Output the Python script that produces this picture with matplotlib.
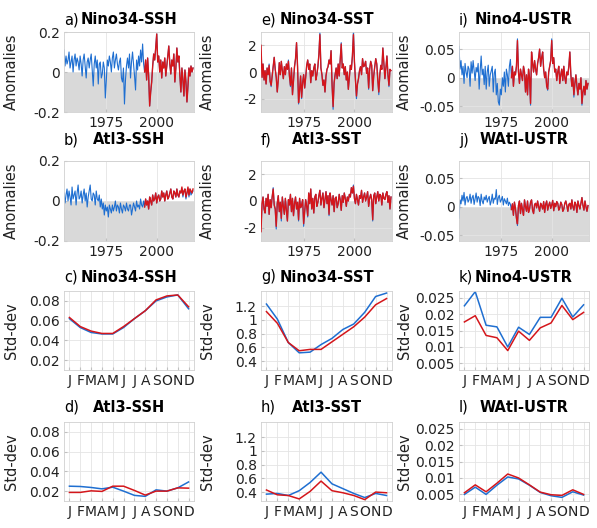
import numpy as np
import matplotlib
matplotlib.use('Agg')
import matplotlib.pyplot as plt

plt.rcParams['font.family'] = ['DejaVu Sans']
plt.rcParams['axes.unicode_minus'] = False

# half-year time axis of the anomaly series
years = np.arange(1954, 2018.01, 0.5)
months = np.arange(1, 13)
month_labels = ['J', 'F', 'M', 'A', 'M', 'J', 'J', 'A', 'S', 'O', 'N', 'D']

# ---- anomaly series (blue = full record, red = observations) ----
a_blue = [0.11, 0.03, 0.08, 0.04, 0.06, 0.10, 0.02, 0.05, 0.08, 0.00,
          0.06, 0.09, 0.03, 0.07, 0.05, 0.01, 0.08, 0.04, -0.02, 0.06,
          0.09, 0.03, -0.03, 0.05, 0.07, 0.02, 0.06, 0.09, 0.01, -0.07,
          0.04, 0.08, 0.02, 0.06, -0.06, 0.04, 0.05, -0.03, -0.01, 0.05,
          0.02, -0.13, -0.04, 0.06, 0.03, 0.08, 0.05, 0.00, 0.07, 0.10,
          0.02, 0.06, 0.09, 0.04, 0.01, 0.05, 0.07, -0.03, -0.05, 0.02,
          -0.16, -0.04, 0.03, 0.07, 0.02, 0.09, -0.03, 0.05, 0.10, 0.04,
          -0.02, -0.09, 0.06, 0.01, 0.08, 0.03, 0.11, 0.05, 0.14, 0.04,
          0.00, 0.06, -0.04, 0.07, -0.02, -0.17, -0.10, -0.05, 0.03, 0.09,
          0.06, 0.12, 0.19, 0.05, 0.08, 0.00, 0.06, -0.03, 0.05, 0.02,
          0.07, -0.02, 0.03, 0.08, 0.13, 0.04, -0.01, 0.06, 0.03, 0.09,
          -0.05, 0.02, 0.12, 0.05, 0.08, -0.02, -0.10, 0.02, -0.04, -0.12,
          0.01, -0.05, -0.15, -0.07, 0.02, -0.02, 0.03, 0.00, 0.02]
a_red = [0.00, 0.06, -0.04, 0.07, -0.02, -0.17, -0.10, -0.05, 0.03, 0.09,
         0.06, 0.12, 0.19, 0.05, 0.08, 0.00, 0.06, -0.03, 0.05, 0.02,
         0.07, -0.02, 0.03, 0.08, 0.13, 0.04, -0.01, 0.06, 0.03, 0.09,
         -0.05, 0.02, 0.12, 0.05, 0.08, -0.02, -0.10, 0.02, -0.04, -0.12,
         0.01, -0.05, -0.15, -0.07, 0.02, -0.02, 0.03, 0.00, 0.02]

b_blue = [0.04, -0.01, 0.03, 0.06, 0.00, 0.05, 0.02, -0.02, 0.07, 0.01,
          0.03, 0.05, -0.02, 0.04, 0.08, 0.01, 0.02, 0.05, -0.01, 0.03,
          0.06, 0.00, 0.04, -0.03, 0.02, 0.05, 0.08, 0.01, 0.00, 0.04,
          0.03, -0.02, 0.05, 0.01, 0.00, 0.03, -0.03, 0.01, -0.04, -0.01,
          -0.07, -0.02, -0.05, -0.03, -0.08, -0.02, -0.04, -0.06, -0.02, -0.05,
          -0.03, 0.00, -0.05, -0.02, -0.03, -0.06, -0.01, -0.04, -0.06, -0.02,
          -0.03, -0.05, -0.01, -0.04, -0.05, -0.02, -0.02, -0.07, -0.04, -0.01,
          -0.03, -0.05, 0.00, -0.03, -0.02, -0.04, 0.01, -0.02, -0.03, 0.00,
          -0.03, 0.01, -0.02, 0.00, -0.04, 0.02, 0.00, -0.02, 0.03, 0.00,
          0.01, 0.04, -0.01, 0.02, 0.03, 0.00, 0.01, 0.05, 0.02, 0.04,
          0.00, 0.03, 0.05, 0.01, 0.02, 0.04, 0.06, 0.02, 0.01, 0.05,
          0.04, 0.02, 0.06, 0.03, 0.02, 0.05, 0.04, 0.06, 0.02, 0.05,
          0.06, 0.01, 0.04, 0.06, 0.02, 0.06, 0.03, 0.04, 0.05]
b_red = [-0.03, 0.01, -0.02, 0.00, -0.04, 0.02, 0.00, -0.02, 0.03, 0.00,
         0.01, 0.04, -0.01, 0.02, 0.03, 0.00, 0.01, 0.05, 0.02, 0.04,
         0.00, 0.03, 0.05, 0.01, 0.02, 0.04, 0.06, 0.02, 0.01, 0.05,
         0.04, 0.02, 0.06, 0.03, 0.02, 0.05, 0.04, 0.07, 0.03, 0.05,
         0.06, 0.02, 0.04, 0.07, 0.03, 0.06, 0.05, 0.04, 0.06]

e_blue = [2.0, -0.4, 0.6, -0.6, 0.1, -0.9, 0.3, -0.2, 0.6, -0.7,
          -1.1, -0.3, 0.4, 1.1, 0.2, -0.4, -1.5, -0.6, 0.7, -0.2,
          0.8, 0.1, -0.5, 0.4, -0.2, 0.6, 0.2, 0.9, -0.3, -1.1,
          0.3, -1.7, -0.6, 0.4, 1.0, 2.2, 0.4, -2.4, -1.4, -0.3,
          -2.0, -0.8, -0.2, -1.2, -0.4, 0.5, 0.9, 0.2, 0.6, -0.8,
          0.1, -0.3, 0.3, 0.6, -0.6, -0.2, 0.4, 1.3, 3.0, 0.3,
          -0.2, -1.0, -0.6, -1.5, -0.3, 0.2, 0.4, 0.9, 0.6, 1.6,
          -1.0, -2.8, -0.8, -0.2, 0.3, -0.5, 0.6, -0.3, 0.9, 2.2,
          0.3, 0.6, -0.2, 0.4, -0.6, 0.0, -1.3, -0.4, 0.5, 0.2,
          1.2, 3.0, 0.8, -0.6, -2.0, -0.9, -0.5, 0.1, 0.4, -0.2,
          1.0, 0.4, 0.5, 0.8, -0.1, 0.3, -1.3, 0.2, 0.8, 0.5,
          -1.4, -0.3, 0.4, 1.0, 0.6, -0.6, -1.7, -0.2, 0.5, 0.2,
          1.8, 0.7, -0.5, 0.3, 1.2, -0.2, -1.1, 0.2, 0.1]
e_red = [2.0, -0.4, 0.6, -0.6, 0.1, -0.9, 0.3, -0.2, 0.5, -0.7,
         -1.0, -0.3, 0.4, 1.1, 0.2, -0.4, -1.5, -0.6, 0.7, -0.2,
         0.8, 0.1, -0.5, 0.4, -0.2, 0.6, 0.2, 0.8, -0.3, -1.0,
         0.3, -1.7, -0.6, 0.4, 1.0, 2.2, 0.4, -2.3, -1.4, -0.3,
         -1.9, -0.8, -0.2, -1.2, -0.4, 0.5, 0.9, 0.2, 0.6, -0.8,
         0.1, -0.3, 0.3, 0.6, -0.6, -0.2, 0.4, 1.3, 2.8, 0.3,
         -0.2, -1.0, -0.6, -1.5, -0.3, 0.2, 0.4, 0.9, 0.6, 1.6,
         -1.0, -2.6, -0.8, -0.2, 0.3, -0.5, 0.6, -0.3, 0.9, 2.1,
         0.3, 0.6, -0.2, 0.4, -0.6, 0.0, -1.3, -0.4, 0.5, 0.2,
         1.2, 2.8, 0.8, -0.6, -1.8, -0.9, -0.5, 0.1, 0.4, -0.2,
         1.0, 0.4, 0.5, 0.8, -0.1, 0.3, -1.2, 0.2, 0.8, 0.5,
         -1.4, -0.3, 0.4, 1.0, 0.6, -0.6, -1.5, -0.2, 0.5, 0.2,
         1.8, 0.7, -0.5, 0.3, 1.2, -0.2, -1.0, 0.2, 0.1]

f_blue = [-2.3, -0.2, 0.3, -0.6, -0.9, 0.2, -0.4, 0.5, -1.0, 0.1,
          -0.5, 0.3, 1.0, -0.3, -0.6, -2.1, -0.2, 0.4, -0.8, -0.1,
          -1.5, 0.3, -0.4, -1.0, 0.2, -0.7, -1.5, 0.1, -0.3, 0.5,
          -0.8, 0.2, -1.1, -0.2, 0.3, -0.6, -0.1, -1.5, 0.2, -0.5,
          -0.3, 0.1, -1.9, -0.8, 0.1, -0.4, -1.2, 0.6, -0.2, 0.9,
          -0.6, 0.2, -0.9, 0.3, 0.5, -0.4, -0.1, 0.4, 0.8, -0.3,
          0.2, 0.6, -0.5, 0.1, 0.7, -0.2, 0.4, -1.1, 0.6, 0.1,
          -0.3, 0.4, -0.8, 0.2, 0.3, -0.5, -0.2, 0.5, 0.1, -0.7,
          0.4, -0.1, 0.6, 0.2, -0.4, 0.3, 0.0, 0.5, 0.3, 1.0,
          0.6, 1.2, 0.2, -0.2, 0.5, 0.1, -0.3, 0.4, 0.2, 0.8,
          -0.1, 0.3, 0.6, 0.0, 0.3, 0.7, -0.4, 0.2, 0.5, 0.1,
          -1.5, 0.4, 0.6, -0.2, 0.3, 0.7, 0.0, 0.5, 0.4, -0.3,
          0.6, 0.2, 0.1, 0.5, 0.7, -0.1, 0.4, -0.6, 0.3]
f_red = [-2.3, -0.2, 0.3, -0.6, -0.9, 0.2, -0.4, 0.5, -1.0, 0.1,
         -0.5, 0.3, 0.9, -0.3, -0.6, -1.9, -0.2, 0.4, -0.8, -0.1,
         -1.3, 0.3, -0.4, -1.0, 0.2, -0.7, -1.5, 0.1, -0.3, 0.5,
         -0.8, 0.2, -1.1, -0.2, 0.3, -0.6, -0.1, -1.4, 0.2, -0.5,
         -0.3, 0.1, -1.7, -0.8, 0.1, -0.4, -1.1, 0.6, -0.2, 0.9,
         -0.6, 0.2, -0.9, 0.3, 0.5, -0.4, -0.1, 0.4, 0.8, -0.3,
         0.2, 0.6, -0.5, 0.1, 0.7, -0.2, 0.4, -1.0, 0.6, 0.1,
         -0.3, 0.4, -0.8, 0.2, 0.3, -0.5, -0.2, 0.5, 0.1, -0.7,
         0.4, -0.1, 0.6, 0.2, -0.4, 0.3, 0.0, 0.5, 0.3, 1.0,
         0.6, 1.1, 0.2, -0.2, 0.5, 0.1, -0.3, 0.4, 0.2, 0.8,
         -0.1, 0.3, 0.6, 0.0, 0.3, 0.7, -0.4, 0.2, 0.5, 0.1,
         -1.4, 0.4, 0.6, -0.2, 0.3, 0.7, 0.0, 0.5, 0.4, -0.3,
         0.6, 0.2, 0.1, 0.5, 0.7, -0.1, 0.4, -0.6, 0.3]

i_blue = [0.055, 0.015, 0.030, 0.005, 0.020, -0.010, 0.025, 0.010, 0.000, 0.020,
          0.015, -0.015, 0.028, 0.008, 0.030, 0.012, -0.005, 0.018, 0.010, 0.025,
          -0.020, 0.012, 0.038, 0.005, 0.015, -0.012, 0.020, -0.020, 0.010, 0.022,
          -0.015, 0.005, 0.012, 0.020, -0.025, 0.008, 0.015, -0.030, -0.010, -0.042,
          -0.048, -0.020, -0.030, 0.000, -0.015, 0.010, -0.025, 0.015, 0.005, -0.015,
          0.020, 0.032,
          0.000, 0.020, -0.015, 0.010, 0.005, 0.020, 0.068, 0.010, -0.010, 0.015,
          0.005, -0.005, 0.020, 0.010, -0.025, 0.005, -0.030, 0.015, 0.000, -0.048,
          0.045, 0.025, 0.010, 0.030, 0.015, 0.005, 0.025, 0.035, 0.050, 0.020,
          0.035, 0.045, 0.015, 0.000, 0.010, -0.015, -0.022, 0.010, 0.020, 0.030,
          0.068, 0.025, 0.035, 0.010, 0.015, -0.005, 0.010, 0.020, -0.010, 0.005,
          0.015, -0.005, 0.020, 0.000, -0.010, 0.010, 0.005, 0.020, 0.045, 0.005,
          -0.015, 0.000, -0.034, -0.010, 0.005, -0.015, -0.030, -0.010, -0.020, 0.000,
          -0.048, -0.025, -0.015, -0.030, -0.005, -0.020, -0.010]
i_red = [0.000, 0.020, -0.015, 0.010, 0.005, 0.020, 0.065, 0.010, -0.010, 0.015,
         0.005, -0.005, 0.020, 0.010, -0.025, 0.005, -0.030, 0.015, 0.000, -0.045,
         0.045, 0.025, 0.010, 0.030, 0.015, 0.005, 0.025, 0.035, 0.050, 0.020,
         0.035, 0.045, 0.015, 0.000, 0.010, -0.015, -0.020, 0.010, 0.020, 0.030,
         0.065, 0.025, 0.035, 0.010, 0.015, -0.005, 0.010, 0.020, -0.010, 0.005,
         0.015, -0.005, 0.020, 0.000, -0.010, 0.010, 0.005, 0.020, 0.045, 0.005,
         -0.015, 0.000, -0.030, -0.010, 0.005, -0.015, -0.030, -0.010, -0.020, 0.000,
         -0.045, -0.025, -0.015, -0.030, -0.005, -0.020, -0.010]

j_blue = [-0.020, 0.012, 0.005, 0.020, 0.010, 0.025, 0.003, 0.015, 0.018, 0.008,
          0.012, 0.022, 0.006, 0.016, 0.020, 0.004, 0.014, 0.024, 0.008, 0.018,
          0.015, 0.002, 0.022, 0.010, 0.005, 0.017, 0.012, 0.020, 0.008, 0.014,
          0.018, 0.003, 0.010, 0.022, 0.006, 0.015, 0.013, 0.030, 0.004, 0.016,
          0.020, 0.008, 0.012, 0.018, 0.003, 0.014, 0.010, 0.005, 0.015, 0.002,
          0.008, 0.004,
          -0.005, 0.005, -0.015, 0.008, -0.003, -0.020, -0.033, 0.002, 0.010, -0.012,
          0.006, -0.005, -0.015, 0.012, 0.000, -0.008, 0.010, -0.010, -0.004, 0.008,
          0.012, -0.006, -0.012, 0.004, 0.006, -0.002, 0.010, 0.000, -0.008, 0.006,
          0.002, -0.004, 0.009, -0.010, 0.004, 0.010, -0.006, 0.002, 0.008, -0.003,
          0.003, 0.011, -0.007, 0.006, 0.000, 0.009, 0.006, -0.006, -0.002, 0.008,
          0.004, -0.008, -0.004, 0.006, 0.010, 0.002, -0.008, 0.004, 0.006, -0.004,
          0.012, 0.000, -0.006, 0.008, 0.004, -0.010, 0.010, 0.002, -0.004, 0.006,
          0.016, 0.002, -0.006, 0.010, 0.000, -0.008, 0.002]
j_red = [-0.005, 0.005, -0.015, 0.008, -0.003, -0.020, -0.030, 0.002, 0.010, -0.012,
         0.006, -0.005, -0.015, 0.012, 0.000, -0.008, 0.010, -0.010, -0.004, 0.008,
         0.012, -0.006, -0.012, 0.004, 0.006, -0.002, 0.010, 0.000, -0.008, 0.006,
         0.002, -0.004, 0.009, -0.010, 0.004, 0.010, -0.006, 0.002, 0.008, -0.003,
         0.003, 0.011, -0.007, 0.006, 0.000, 0.009, 0.006, -0.006, -0.002, 0.008,
         0.004, -0.008, -0.004, 0.006, 0.010, 0.002, -0.008, 0.004, 0.006, -0.004,
         0.012, 0.000, -0.006, 0.008, 0.004, -0.010, 0.010, 0.002, -0.004, 0.006,
         0.016, 0.002, -0.006, 0.010, 0.000, -0.008, 0.002]

# ---- seasonal standard deviation (J..D) ----
c_blue = [0.062, 0.053, 0.048, 0.0465, 0.0465, 0.053, 0.062, 0.070, 0.080, 0.084, 0.086, 0.072]
c_red = [0.0632, 0.054, 0.0494, 0.047, 0.047, 0.054, 0.062, 0.070, 0.081, 0.085, 0.086, 0.074]
d_blue = [0.025, 0.0247, 0.0237, 0.0223, 0.024, 0.020, 0.0157, 0.0147, 0.0213, 0.020, 0.0233, 0.0293]
d_red = [0.0187, 0.0187, 0.0203, 0.0197, 0.025, 0.025, 0.0207, 0.016, 0.020, 0.020, 0.0233, 0.023]
g_blue = [1.23, 1.01, 0.67, 0.52, 0.53, 0.64, 0.73, 0.86, 0.94, 1.11, 1.34, 1.39]
g_red = [1.12, 0.95, 0.67, 0.55, 0.57, 0.57, 0.68, 0.79, 0.90, 1.04, 1.22, 1.31]
h_blue = [0.37, 0.38, 0.35, 0.42, 0.54, 0.69, 0.52, 0.45, 0.38, 0.32, 0.38, 0.35]
h_red = [0.43, 0.36, 0.35, 0.30, 0.41, 0.56, 0.42, 0.39, 0.35, 0.29, 0.40, 0.39]
k_blue = [0.0225, 0.0268, 0.0166, 0.0161, 0.0100, 0.0160, 0.0138, 0.0190, 0.0190, 0.0248, 0.0191, 0.0228]
k_red = [0.0176, 0.0195, 0.0135, 0.0128, 0.0089, 0.0148, 0.0120, 0.0158, 0.0173, 0.0226, 0.0183, 0.0205]
l_blue = [0.0050, 0.0072, 0.0050, 0.0078, 0.0103, 0.0097, 0.0078, 0.0056, 0.0046, 0.0041, 0.0058, 0.0048]
l_red = [0.0055, 0.0079, 0.0058, 0.0084, 0.0112, 0.0100, 0.0079, 0.0057, 0.0049, 0.0047, 0.0064, 0.0050]

BLUE = '#1f6fd1'
RED = '#d4161b'
GRID = '#e4e4e4'
W, H = 597, 528

fig = plt.figure(figsize=(W / 100, H / 100), dpi=100)

cols = [(64, 194), (261, 392), (459, 589)]
rows = [(32, 112), (161, 241), (291, 370), (422, 501)]
title_y = [20, 140, 277, 407]
ylabel_x = [19, 215, 412]   # right edge of the rotated y label, pixels


def make_ax(c, r):
    l, rr = cols[c]
    t, b = rows[r]
    return fig.add_axes([l / W, 1 - b / H, (rr - l) / W, (b - t) / H])


def style(ax, c, r, ylabel, letter, name):
    for s in ax.spines.values():
        s.set_color('#d0d0d0')
        s.set_linewidth(0.6)
    ax.tick_params(length=2, direction='in', color='#c0c0c0', labelsize=10,
                   labelcolor='#222222', pad=3)
    ax.grid(True, color=GRID, linewidth=0.6)
    ax.set_axisbelow(True)
    ax.set_ylabel(ylabel, fontsize=10.5, color='#222222')
    l, rr = cols[c]
    ax.yaxis.set_label_coords((ylabel_x[c] - l) / (rr - l), 0.5)
    fig.text(l / W, 1 - title_y[r] / H, letter, fontsize=10.5, ha='left', va='center')
    fig.text((l + rr) / 2 / W, 1 - title_y[r] / H, name, fontsize=10.5,
             fontweight='bold', ha='center', va='center')


# top two rows: anomaly time series
series = [
    (0, 0, a_blue, a_red, 80, (-0.2, 0.2), [-0.2, 0, 0.2], ['-0.2', '0', '0.2'], 'a)', 'Nino34-SSH'),
    (0, 1, b_blue, b_red, 80, (-0.2, 0.2), [-0.2, 0, 0.2], ['-0.2', '0', '0.2'], 'b)', 'Atl3-SSH'),
    (1, 0, e_blue, e_red, 0, (-3, 3), [-2, 0, 2], ['-2', '0', '2'], 'e)', 'Nino34-SST'),
    (1, 1, f_blue, f_red, 0, (-3, 3), [-2, 0, 2], ['-2', '0', '2'], 'f)', 'Atl3-SST'),
    (2, 0, i_blue, i_red, 52, (-0.06, 0.08), [-0.05, 0, 0.05], ['-0.05', '0', '0.05'], 'i)', 'Nino4-USTR'),
    (2, 1, j_blue, j_red, 52, (-0.06, 0.08), [-0.05, 0, 0.05], ['-0.05', '0', '0.05'], 'j)', 'WAtl-USTR'),
]
for c, r, blue, red, start, ylim, yt, ytl, letter, name in series:
    ax = make_ax(c, r)
    ax.axhspan(ylim[0], 0, color='#d9d9d9', zorder=0.5, lw=0)
    ax.plot(years, blue, color=BLUE, lw=0.8, zorder=2)
    ax.plot(years[start:], red, color=RED, lw=1.0, zorder=3)
    ax.set_xlim(1954, 2018.5)
    ax.set_ylim(*ylim)
    ax.set_xticks([1975, 2000])
    ax.set_xticklabels(['1975', '2000'])
    ax.set_yticks(yt)
    ax.set_yticklabels(ytl)
    style(ax, c, r, 'Anomalies', letter, name)

# bottom two rows: seasonal std-dev
stds = [
    (0, 2, c_blue, c_red, (0.01, 0.09), [0.02, 0.04, 0.06, 0.08], ['0.02', '0.04', '0.06', '0.08'], 'c)', 'Nino34-SSH'),
    (0, 3, d_blue, d_red, (0.01, 0.09), [0.02, 0.04, 0.06, 0.08], ['0.02', '0.04', '0.06', '0.08'], 'd)', 'Atl3-SSH'),
    (1, 2, g_blue, g_red, (0.27, 1.42), [0.4, 0.6, 0.8, 1, 1.2], ['0.4', '0.6', '0.8', '1', '1.2'], 'g)', 'Nino34-SST'),
    (1, 3, h_blue, h_red, (0.27, 1.42), [0.4, 0.6, 0.8, 1, 1.2], ['0.4', '0.6', '0.8', '1', '1.2'], 'h)', 'Atl3-SST'),
    (2, 2, k_blue, k_red, (0.003, 0.027), [0.005, 0.01, 0.015, 0.02, 0.025],
     ['0.005', '0.01', '0.015', '0.02', '0.025'], 'k)', 'Nino4-USTR'),
    (2, 3, l_blue, l_red, (0.003, 0.027), [0.005, 0.01, 0.015, 0.02, 0.025],
     ['0.005', '0.01', '0.015', '0.02', '0.025'], 'l)', 'WAtl-USTR'),
]
for c, r, blue, red, ylim, yt, ytl, letter, name in stds:
    ax = make_ax(c, r)
    ax.plot(months, blue, color=BLUE, lw=1.1, zorder=2)
    ax.plot(months, red, color=RED, lw=1.1, zorder=3)
    ax.set_xlim(0.5, 12.5)
    ax.set_ylim(*ylim)
    ax.set_xticks(months)
    ax.set_xticklabels(month_labels)
    ax.set_yticks(yt)
    ax.set_yticklabels(ytl)
    style(ax, c, r, 'Std-dev', letter, name)

fig.savefig('out.png', dpi=100)
